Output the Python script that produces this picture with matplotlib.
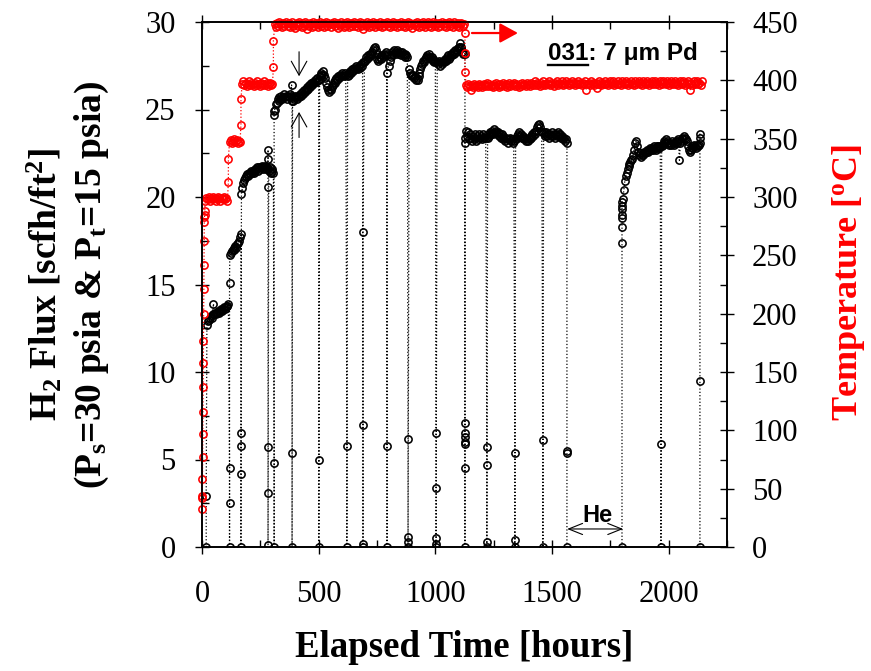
import matplotlib
matplotlib.use("Agg")
import matplotlib.pyplot as plt
from matplotlib.lines import Line2D

plt.rcParams['font.family'] = ['Liberation Serif', 'DejaVu Serif']
plt.rcParams['mathtext.default'] = 'regular'

# ---------------- H2 flux [scfh/ft2] ----------------
# every stop: hour, readings while the flux fell to zero and came back up
stop_hours = [18, 118, 167, 283, 309, 386, 501, 621, 690, 793,
              883, 1003, 1127, 1221, 1341, 1461, 1564, 1800, 1967, 2134]
stop_flux = [
    [0.0, 2.9],
    [4.5, 2.5, 0.0, 15.1],
    [17.9, 6.5, 5.8, 4.2, 0.0],
    [22.2, 22.7, 20.6, 5.7, 3.1, 0.1],
    [4.8, 0.0, 24.7, 24.9],
    [25.5, 5.4, 0.0],
    [5.0, 0.0],
    [5.8, 0.0],
    [7.0, 0.2, 0.0, 18.0],
    [5.8, 0.0, 27.1],
    [6.2, 0.6, 0.3, 0.0],
    [6.5, 3.4, 0.5, 0.2, 0.0],
    [28.2, 7.1, 6.5, 6.3, 6.0, 5.9, 4.5, 0.0, 23.1, 23.4],
    [5.7, 4.7, 0.3, 0.0],
    [5.4, 0.4, 0.0],
    [6.1, 0.0],
    [23.1, 5.5, 5.4, 0.0],
    [0.0, 17.4, 18.3, 18.8, 19.0, 19.3, 19.5, 19.7],
    [5.9, 0.0],
    [23.6, 23.4, 23.1, 9.5, 0.0],
]
# logged run after each stop: (first hour, logging step, readings); None = no flow
flux_runs = [
    (21, 4, [12.7, 12.9, 13.0, 13.1, 13.2, 13.1, 13.3, 13.9, 13.3, 13.4,
             13.3, 13.4, 13.5, 13.4, 13.5, 13.6, 13.5, 13.6, 13.7, 13.6,
             13.7, 13.8, 13.8, 13.9]),
    (119, 4, [16.7, 16.8, 16.9, 17.0, 17.0, 17.1, 17.2, 17.1, 17.3, 17.4,
              17.5, 17.7]),
    (169, 4, [20.2, 20.5, 20.8, 21.0, 21.1, 21.2, 21.3, 21.2, 21.4, 21.3,
              21.5, 21.4, 21.5, 21.4, 21.6, 21.5, 21.6, 21.7, 21.5, 21.7,
              21.6, 21.7, 21.8, 21.6, 21.7, 21.8, 21.6, 21.7, 21.6]),
    (286, 4, [21.5, 21.7, 21.4, 21.6, 21.5, 21.4]),
    (312, 4, [25.0, 25.3, 25.4, 25.6, 25.5, 25.7, 25.6, 25.8, 25.6, 25.7,
              25.9, 25.7, 25.8, 25.6, 25.8, 25.7, 25.9, 25.8, 26.4]),
    (388, 4, [25.5, 25.7, 25.6, 25.8, 25.7, 25.6, 25.8, 25.7, 25.9, 25.8,
              26.0, 25.9, 26.1, 26.0, 26.2, 26.1, 26.3, 26.2, 26.4, 26.3,
              26.5, 26.4, 26.6, 26.5, 26.7, 26.6, 26.8, 26.7, 26.7]),
    (504, 4, [26.9, 27.0, 27.1, 27.0, 27.2, 27.0, 26.8, 26.5, 26.3, 26.1,
              26.0, 26.2, 26.1, 26.3, 26.4, 26.6, 26.5, 26.7, 26.8, 26.7,
              26.9, 26.8, 27.0, 26.9, 27.1, 27.0, 26.9, 27.1, 27.0]),
    (624, 4, [26.9, 27.1, 27.0, 27.2, 27.1, 27.3, 27.2, 27.4, 27.3, 27.5,
              27.4, 27.3, 27.5, 27.4, 27.6, 27.5, 27.7]),
    (696, 4, [27.7, 27.8, 28.0, 27.9, 28.1, 28.0, 28.2, 28.1, 28.3, 28.4,
              28.5, 28.6, 28.4, 28.2, 27.9, 27.8, 27.9, 28.0, 27.9, 28.1,
              28.0, 28.2, 28.1, 28.3, 28.2]),
    (800, 4, [27.5, 27.8, 28.0, 28.1, 28.3, 28.2, 28.4, 28.3, 28.2, 28.4,
              28.3, 28.2, 28.3, 28.1, 28.3, 28.2, 28.1, 28.2, 28.0, 28.1,
              28.0]),
    (888, 4, [27.3, 27.1, 27.0, 26.9, 27.0, 26.8, 26.9, 26.7, 26.8, 26.7,
              26.9, 27.1, 27.3, 27.5, 27.6, 27.8, 27.7, 27.9, 28.0, 28.1,
              28.0, 28.2, 28.0, 27.9, 28.0, 27.8, 27.9, 27.7, 27.8]),
    (1008, 4, [27.7, 27.6, 27.8, 27.5, 27.7, 27.6, 27.8, 27.7, 27.9, 27.8,
               28.0, 27.9, 28.1, 27.9, 28.0, 28.2, 28.1, 28.3, 28.2, 28.4,
               28.3, 28.4, 28.5, 28.6, 28.8, 28.6, 28.5, 28.3, 28.2]),
    (1132, 4, [23.8, 23.5, 23.7, 23.3, 23.6, 23.4, 23.2, 23.5, 23.3, 23.6,
               23.4, 23.2, 23.5, 23.3, 23.6, 23.4, 23.5, 23.3, 23.6, 23.4,
               23.5, 23.4]),
    (1224, 4, [23.4, 23.6, 23.5, 23.7, 23.6, 23.8, 23.6, 23.9, 23.7, 23.8,
               23.6, 23.7, 23.5, 23.6, 23.4, 23.6, 23.3, 23.5, 23.4, 23.2,
               23.4, 23.3, 23.1, 23.3, 23.4, 23.2, 23.3, 23.1, 23.2]),
    (1344, 4, [23.3, 23.5, 23.4, 23.6, 23.7, 23.5, 23.6, 23.4, 23.5, 23.3,
               23.4, 23.2, 23.3, 23.2, 23.4, 23.3, 23.5, 23.4, 23.6, 23.5,
               23.7, 23.6, 23.8, 24.0, 24.1, 24.2, 24.0, 23.8, 23.7]),
    (1464, 4, [23.7, 23.5, 23.6, 23.7, 23.5, 23.6, 23.4, 23.6, 23.5, 23.7,
               23.5, 23.6, 23.4, 23.6, 23.5, 23.7, 23.6, 23.5, 23.6, 23.4,
               23.5, 23.3, 23.4, 23.2, 23.3]),
    None,
    (1804, 4, [19.9, 20.4, 20.9, 21.2, 21.4, 21.6, 21.8, 21.9, 22.0, 22.1,
               22.2, 22.4, 22.7, 23.1, 23.2, 22.9, 22.6, 22.4, 22.5, 22.3,
               22.4, 22.5, 22.4, 22.6, 22.5, 22.6, 22.7, 22.6, 22.7, 22.8,
               22.7, 22.8, 22.7, 22.9, 22.8, 22.7, 22.9, 22.8, 22.9, 22.8,
               22.9]),
    (1970, 4, [22.9, 23.0, 23.1, 23.2, 23.1, 23.3, 23.2, 23.1, 23.0, 23.1,
               23.0, 23.2, 23.1, 23.0, 23.1, 23.2, 23.1, 23.3, 23.2, 22.1,
               23.1, 23.2, 23.4, 23.3, 23.5, 23.4, 23.3, 23.2, 22.9, 22.7,
               22.6, 22.7, 22.8, 22.9, 22.8, 23.0, 22.9, 22.8, 23.0, 22.9,
               23.0]),
    None,
]

# ---------------- Temperature [C] ----------------
# set-point runs: (first hour, logging step, readings)
temp_runs = [
    (0, 0.7, [33, 42, 44, 58, 77, 97, 116, 137, 158, 177, 200, 221, 242, 262,
              279, 283, 285, 288]),
    (14, 5, [297, 299, 298, 300, 297, 299, 298, 300, 299, 297,
             298, 300, 299, 297, 299, 298, 300, 298, 299, 297]),
    (118, 5, [347, 349, 346, 348, 350, 347, 349, 346, 348, 347]),
    (172, 5, [397, 399, 396, 398, 395, 397, 399, 396, 398, 397,
              395, 398, 396, 399, 397, 395, 398, 396, 397, 399,
              396, 398, 395, 397, 398, 396, 397]),
    (312, 5, [448, 446, 449, 447, 450, 448, 446, 449, 447, 448,
              450, 447, 449, 446, 448, 450, 447, 445, 448, 449,
              447, 450, 448, 446, 449, 447, 450, 448, 444, 447,
              449, 448, 446, 450, 447, 449, 448, 446, 448, 450,
              447, 449, 446, 448, 450, 447, 449, 448, 446, 449,
              448, 450, 447, 449, 445, 448, 447, 450, 448, 446,
              449, 447, 450, 448, 446, 449, 447, 448, 450, 447,
              449, 446, 448, 450, 447, 449, 444, 448, 447, 450,
              448, 446, 449, 447, 450, 448, 446, 449, 448, 447,
              450, 448, 446, 449, 447, 448, 450, 447, 449, 446,
              448, 450, 447, 449, 448, 446, 449, 447, 450, 448,
              447, 449, 446, 448, 450, 447, 449, 448, 445, 448,
              449, 447, 450, 448, 446, 449, 447, 450, 448, 446,
              448, 450, 447, 449, 446, 448, 450, 447, 449, 448,
              446, 449, 447, 450, 448, 447, 449, 446, 448, 450,
              447, 449, 448, 446, 450, 448, 447, 449, 446, 448,
              449, 447, 448]),
    (1132, 5, [396, 394, 397, 395, 392, 396, 394, 397, 395, 396,
               394, 397, 395, 396, 394, 397, 395, 396, 398, 395,
               397, 395, 396, 394, 397, 395, 398, 396, 394, 397,
               395, 396, 398, 395, 397, 394, 396, 398, 395, 397,
               396, 398, 395, 397, 396, 394, 397, 395, 398, 396,
               397, 395, 398, 396, 397, 395, 398, 396, 397, 399,
               396, 398, 397, 395, 398, 396, 399, 397, 396, 398,
               397, 399, 396, 398, 397, 395, 398, 397, 399, 396,
               398, 397, 399, 396, 398, 397, 399, 398, 396, 398,
               397, 399, 398, 396, 398, 397, 399, 397, 398, 396,
               398, 397, 399, 392, 397, 398, 396, 399, 397, 398,
               396, 398, 393, 397, 399, 398, 396, 398, 397, 399,
               397, 398, 396, 399, 398, 397, 399, 396, 398, 397,
               399, 397, 398, 396, 399, 398, 397, 399, 398, 396,
               398, 399, 397, 398, 396, 399, 397, 398, 399, 397,
               398, 396, 399, 398, 397, 399, 398, 396, 398, 399,
               397, 398, 399, 397, 398, 396, 399, 398, 397, 399,
               398, 397, 399, 398, 396, 398, 399, 397, 398, 399,
               397, 398, 396, 399, 398, 397, 399, 398, 396, 398,
               399, 397, 392, 398, 396, 399, 397, 398, 399, 397,
               398, 396, 399]),
]
# ramp readings taken after each run (None after the first and the last)
temp_ramp_hours = [None, 113, 167, 306, 1127, None]
temp_ramps = [None, [313, 333], [362, 384], [411, 434], [441, 423, 407], None]


def logged(start, step, values):
    return [start + step * i for i in range(len(values))]


flux_h, flux_v = [], []
for hour, vals, run in zip(stop_hours, stop_flux, flux_runs):
    flux_h += [hour] * len(vals)
    flux_v += vals
    if run is not None:
        flux_h += logged(*run)
        flux_v += run[2]

temp_h, temp_v = [], []
for run, ramp_hour, ramp in zip(temp_runs, temp_ramp_hours, temp_ramps):
    temp_h += logged(*run)
    temp_v += run[2]
    if ramp is not None:
        temp_h += [ramp_hour] * len(ramp)
        temp_v += ramp

W, H = 871, 671
fig = plt.figure(figsize=(W / 100, H / 100), dpi=100)
ax = fig.add_axes([202 / W, 1 - 547 / H, 525 / W, 525 / H])

ax.plot(flux_h, flux_v, ls=':', lw=0.9, color='black', marker='o', ms=5.2,
        mfc='none', mec='black', mew=1.15, zorder=3)
ax.set_xlim(0, 2250)
ax.set_ylim(0, 30)
ax.set_xticks(range(0, 2001, 500))
ax.set_xticks(range(250, 2251, 500), minor=True)
ax.set_yticks(range(0, 31, 5))
ax.set_yticks([2.5 + 5 * i for i in range(6)], minor=True)

ax2 = ax.twinx()
ax2.plot(temp_h, temp_v, ls=':', lw=0.9, color='red', marker='o', ms=5.2,
         mfc='none', mec='red', mew=1.15, clip_on=False)
ax2.set_ylim(0, 450)
ax2.set_yticks(range(0, 451, 50))
ax2.set_yticks(range(25, 451, 50), minor=True)

for a in (ax, ax2):
    for s in a.spines.values():
        s.set_linewidth(1.2)
ax.tick_params(axis='x', which='major', direction='inout', length=10, width=1,
               top=True, labelsize=22, pad=19)
ax.tick_params(axis='x', which='minor', direction='in', length=5, width=1, top=True)
ax.tick_params(axis='y', which='major', direction='inout', length=10, width=1,
               right=False, labelsize=22, pad=14)
ax.tick_params(axis='y', which='minor', direction='in', length=5, width=1, right=False)
ax2.tick_params(axis='y', which='major', direction='inout', length=10, width=1,
                labelsize=22, pad=13)
ax2.tick_params(axis='y', which='minor', direction='in', length=5, width=1)

sans = ['Liberation Sans', 'DejaVu Sans']

# red arrow pointing at the temperature axis
ax.annotate('', xy=(1354, 29.37), xytext=(1157, 29.37),
            arrowprops=dict(arrowstyle='-|>,head_length=0.55,head_width=0.3',
                            color='red', lw=1.6, mutation_scale=20, shrinkA=0, shrinkB=0))
# thin arrows around the 450 C start
ax.annotate('', xy=(416, 26.9), xytext=(416, 28.3),
            arrowprops=dict(arrowstyle='->,head_length=0.5,head_width=0.28',
                            color='black', lw=0.8, mutation_scale=20, shrinkA=0, shrinkB=0))
ax.annotate('', xy=(416, 24.86), xytext=(416, 23.4),
            arrowprops=dict(arrowstyle='->,head_length=0.5,head_width=0.28',
                            color='black', lw=0.8, mutation_scale=20, shrinkA=0, shrinkB=0))
# helium period
ax.annotate('', xy=(1805, 1.03), xytext=(1565, 1.03),
            arrowprops=dict(arrowstyle='<->,head_length=0.5,head_width=0.2',
                            color='black', lw=0.8, mutation_scale=20, shrinkA=0, shrinkB=0))
ax.text(1693, 1.45, 'He', ha='center', va='baseline', fontsize=17,
        fontweight='bold', family=sans)

# membrane id, "031" underlined
tag_x, tag_y = 1483, 27.83
tag_size = 17.5
ax.text(tag_x, tag_y, '031: 7 μm Pd', ha='left', va='baseline', fontsize=tag_size,
        fontweight='bold', family=sans)
fig.canvas.draw()
renderer = fig.canvas.get_renderer()
part = ax.text(tag_x, tag_y, '031', ha='left', va='baseline', fontsize=tag_size,
               fontweight='bold', family=sans)
bb = part.get_window_extent(renderer)
part.remove()
base_y = ax.transData.transform((tag_x, tag_y))[1] - 5
inv = fig.transFigure.inverted()
(x0, y0), (x1, _) = inv.transform([(bb.x0, base_y), (bb.x1, base_y)])
fig.add_artist(Line2D([x0, x1], [y0, y0], transform=fig.transFigure,
                      color='black', lw=1.7))

# axis titles
fig.text(57 / W, 1 - 284.5 / H, 'H$_2$ Flux [scfh/ft$^2$]', rotation=90,
         rotation_mode='anchor', ha='center', va='baseline', fontsize=27,
         fontweight='bold')
fig.text(101 / W, 1 - 284.5 / H, '(P$_s$=30 psia & P$_t$=15 psia)', rotation=90,
         rotation_mode='anchor', ha='center', va='baseline', fontsize=27,
         fontweight='bold')
fig.text(857 / W, 1 - 283 / H, 'Temperature [$^o$C]', rotation=90,
         rotation_mode='anchor', ha='center', va='baseline', fontsize=26,
         fontweight='bold', color='red')
fig.text(464.5 / W, 1 - 657 / H, 'Elapsed Time [hours]', ha='center',
         va='baseline', fontsize=26.5, fontweight='bold')

fig.savefig('out.png', dpi=100)
